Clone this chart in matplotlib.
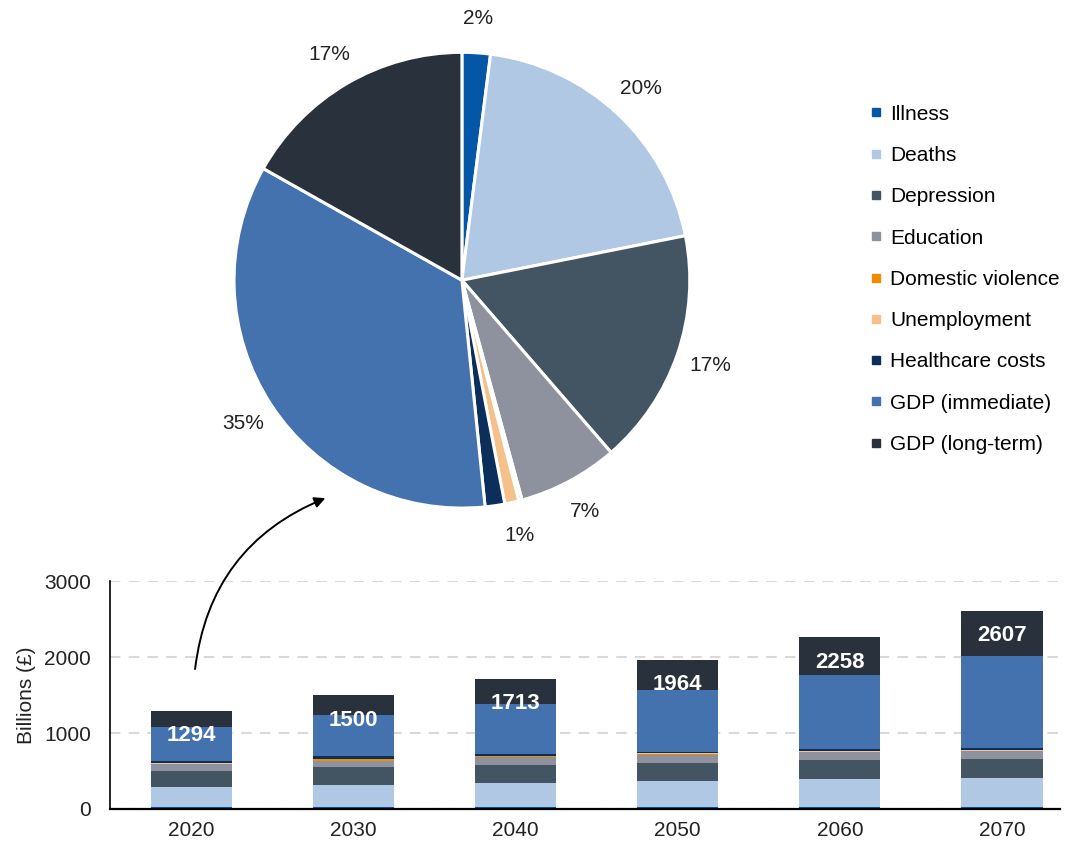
import numpy as np
import matplotlib.pyplot as plt
from matplotlib.lines import Line2D
from matplotlib.patches import FancyArrowPatch

plt.rcParams['font.family'] = ['Liberation Sans', 'DejaVu Sans']

years = ['2020', '2030', '2040', '2050', '2060', '2070']
categories = ['Illness', 'Deaths', 'Depression', 'Education', 'Domestic violence',
              'Unemployment', 'Healthcare costs', 'GDP (immediate)', 'GDP (long-term)']
colors = ['#0457A6', '#B0C8E4', '#435563', '#8E929E', '#F08C00',
          '#F5C08A', '#0B2E5A', '#4472AE', '#29323C']

# billions of pounds
illness = [26, 25, 25, 25, 26, 26]
deaths = [257, 289, 320, 338, 368, 382]
depression = [217, 232, 232, 241, 246, 250]
education = [92, 92, 110, 110, 105, 101]
domestic_violence = [3, 15, 5, 5, 5, 6]
unemployment = [13, 10, 10, 12, 12, 14]
healthcare = [18, 30, 26, 25, 26, 22]
gdp_immediate = [450, 540, 660, 804, 975, 1207]
gdp_longterm = [218, 267, 325, 404, 495, 599]
totals = [1294, 1500, 1713, 1964, 2258, 2607]

series = [illness, deaths, depression, education, domestic_violence,
          unemployment, healthcare, gdp_immediate, gdp_longterm]
hidden_pie_labels = ['Domestic violence', 'Healthcare costs']

fig = plt.figure(figsize=(10.7, 8.44), dpi=100)

# pie of 2020 breakdown
pax = fig.add_axes([0.2187, 0.398, 0.426, 0.540])
pie_vals = [s[0] for s in series]
wedges, texts, autotexts = pax.pie(pie_vals, colors=colors, startangle=90, counterclock=False,
                                   wedgeprops=dict(edgecolor='white', linewidth=2.2),
                                   autopct='%1.0f%%', pctdistance=1.15,
                                   textprops=dict(fontsize=15, color='#222222'))
for name, t in zip(categories, autotexts):
    if name in hidden_pie_labels:
        t.set_text('')
pax.set_xlim(-1, 1)
pax.set_ylim(-1, 1)
pax.set_aspect('equal')

# legend
handles = [Line2D([], [], marker='s', linestyle='', color=c, markersize=6) for c in colors]
fig.legend(handles, categories, loc='upper left', bbox_to_anchor=(0.8135, 0.876), frameon=False,
           fontsize=15, handlelength=0.5, handletextpad=0.45, labelspacing=1.07,
           borderaxespad=0, borderpad=0)

# stacked bars
ax = fig.add_axes([0.103, 0.0415, 0.888, 0.27])
x = np.arange(len(years))
bottom = np.zeros(len(years))
for vals, c in zip(series, colors):
    ax.bar(x, vals, 0.5, bottom=bottom, color=c, edgecolor='none')
    bottom += np.array(vals)

for i, t in enumerate(totals):
    ax.annotate(str(t), xy=(i, t), xytext=(0, -18), textcoords='offset points',
                ha='center', va='center', color='white', fontsize=16, fontweight='bold')

ax.set_ylim(0, 3000)
ax.set_xlim(-0.5, 5.36)
ax.set_yticks([0, 1000, 2000, 3000])
ax.set_xticks(x)
ax.set_xticklabels(years)
ax.tick_params(axis='both', length=0, labelsize=15, colors='#222222')
ax.tick_params(axis='x', pad=9)
ax.tick_params(axis='y', pad=14)
ax.set_ylabel('Billions (£)', fontsize=15, color='#222222', labelpad=6)
for sp in ['top', 'right']:
    ax.spines[sp].set_visible(False)
ax.spines['bottom'].set_linewidth(1.6)
ax.spines['left'].set_linewidth(1.2)
ax.yaxis.grid(True, color='#D9D9D9', linestyle=(0, (5, 4)), linewidth=1.5)
ax.set_axisbelow(True)

# curved arrow from the 2020 bar up to the pie
fig.add_artist(FancyArrowPatch(
    (0.182, 0.204), (0.3065, 0.411), transform=fig.transFigure,
    connectionstyle='arc3,rad=-0.3', arrowstyle='-|>', mutation_scale=16,
    color='black', linewidth=1.4))

plt.savefig('out.png', dpi=100)
